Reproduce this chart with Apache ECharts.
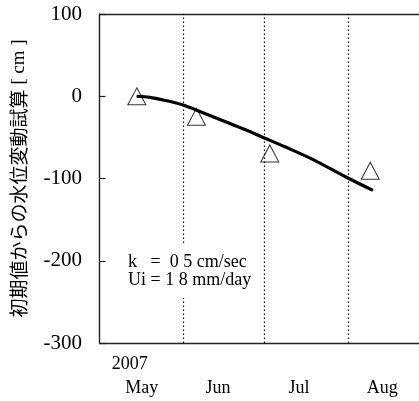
<!DOCTYPE html>
<html>
<head>
<meta charset="utf-8">
<script src="https://cdn.jsdelivr.net/npm/echarts@6/dist/echarts.min.js"></script>
<style>html,body{margin:0;padding:0;background:#fff;}#c{width:419px;height:401px;}</style>
</head>
<body>
<div id="c"></div>
<script>
// x values are days counted from 1 May 2007
const lineDays   = [13.7, 18.6, 23.5, 30.9, 38.9, 46.3, 53.7, 61.1, 68.5, 78.9, 91.2, 101.0];
const lineValues = [0, -1.3, -4.5, -10.7, -21.0, -30.7, -40.5, -51.0, -61.5, -77.0, -98.5, -114.5];
const obsDays    = [13.8, 35.8, 62.9, 100.0];
const obsValues  = [0, -25, -69.5, -90.5];
const monthStarts = [31, 61, 92];           // Jun 1, Jul 1, Aug 1
const monthLabelDays = [15.6, 43.8, 73.7, 104.4];
const monthLabels = ['May', 'Jun', 'Jul', 'Aug'];
const yearLabel = '2007';
const yTicks = [-300, -200, -100, 0, 100];
const yTitleJa = '初期値からの水位変動試算';
const yTitleUnit = ' [ cm ]';
const noteLines = ['k   =  0 5 cm/sec', 'Ui = 1 8 mm/day'];

const chart = echarts.init(document.getElementById('c'), null, {renderer: 'canvas'});
const serif = 'Liberation Serif';
const axisLineStyle = {color: '#222', width: 1.4};
chart.setOption({
  animation: false,
  grid: {left: 99.5, top: 14, right: 0, bottom: 58, show: false},
  xAxis: [{
    type: 'value', min: 0, max: 118, position: 'bottom',
    axisLine: {show: true, onZero: false, lineStyle: axisLineStyle},
    axisTick: {show: false},
    splitLine: {show: false},
    axisLabel: {
      customValues: monthLabelDays,
      margin: 10,
      formatter: function (v) {
        const i = monthLabelDays.indexOf(v);
        if (i < 0) return '';
        return (i === 0 ? '{y|' + yearLabel + '}' : '{y| }') + '\n{m|' + monthLabels[i] + '}';
      },
      rich: {
        y: {fontFamily: serif, fontSize: 18, color: '#000', lineHeight: 23.5, padding: [0, 24, 0, 0]},
        m: {fontFamily: serif, fontSize: 18, color: '#000', lineHeight: 23.5}
      }
    }
  }, {
    type: 'value', min: 0, max: 118, position: 'top',
    axisLine: {show: true, onZero: false, lineStyle: axisLineStyle},
    axisTick: {show: false},
    axisLabel: {show: false},
    splitLine: {show: false}
  }],
  yAxis: {
    type: 'value', min: yTicks[0], max: yTicks[yTicks.length - 1], interval: 100,
    axisLine: {show: true, onZero: false, lineStyle: axisLineStyle},
    axisTick: {show: true, inside: true, length: 6, lineStyle: {color: '#222', width: 1.2}},
    splitLine: {show: false},
    axisLabel: {fontFamily: serif, fontSize: 21, color: '#000', margin: 17.5},
    name: '{a|' + yTitleJa + '}{b|' + yTitleUnit + '}',
    nameLocation: 'middle',
    nameGap: 71,
    nameMoveOverlap: false,
    nameTextStyle: {
      color: '#000',
      rich: {
        a: {fontFamily: 'Noto Sans CJK JP', fontSize: 19, color: '#000'},
        b: {fontFamily: serif, fontSize: 19, color: '#000'}
      }
    }
  },
  series: [
    {
      type: 'line',
      data: lineDays.map((d, i) => [d, lineValues[i]]),
      smooth: 0.3,
      showSymbol: false,
      lineStyle: {color: '#000', width: 3.2},
      z: 3,
      markLine: {
        silent: true,
        symbol: ['none', 'none'],
        label: {show: false},
        lineStyle: {color: '#000', width: 1.2, type: [1.5, 2.5]},
        data: monthStarts.map(d => ({xAxis: d})),
        z: 1
      }
    },
    {
      type: 'scatter',
      data: obsDays.map((d, i) => [d, obsValues[i]]),
      symbol: 'triangle',
      symbolSize: [18, 17],
      itemStyle: {color: 'rgba(255,255,255,0)', borderColor: '#000', borderWidth: 1},
      z: 2
    }
  ],
  graphic: [{
    type: 'text',
    left: 124,
    top: 245,
    z: 10,
    style: {
      text: noteLines.join('\n'),
      font: '18px "Liberation Serif"',
      fill: '#000',
      lineHeight: 18,
      backgroundColor: '#fff',
      padding: [8, 4, 9, 4]
    }
  }]
});
</script>
</body>
</html>
